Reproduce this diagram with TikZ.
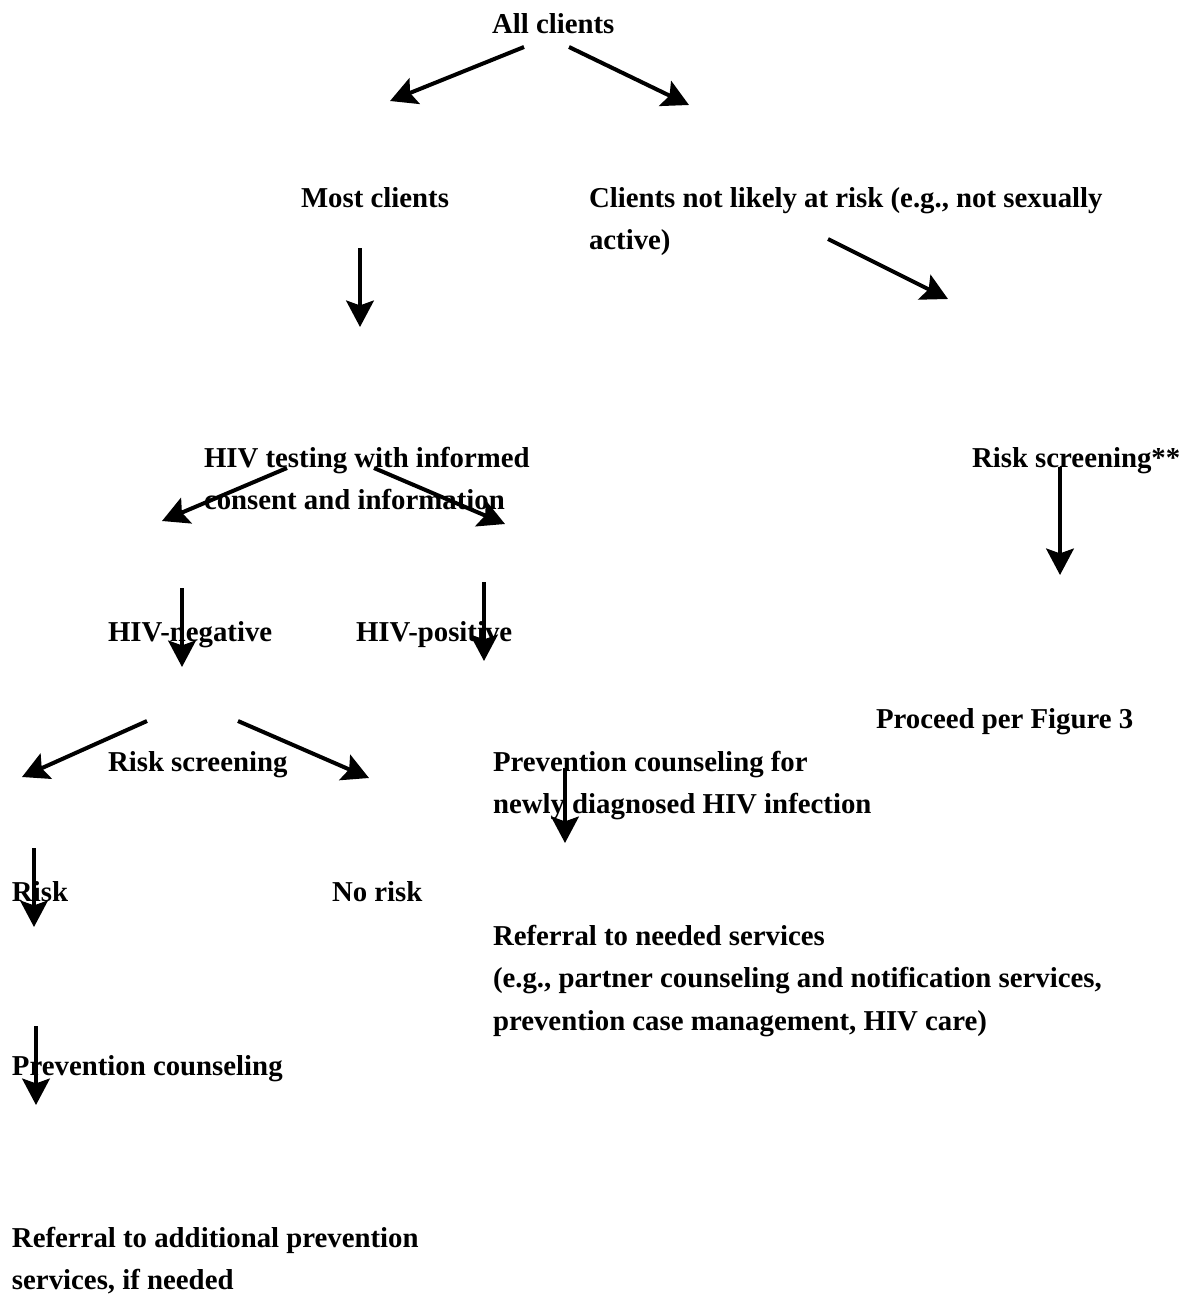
\documentclass[tikz,border=0pt]{standalone}
\usepackage{fontspec}
\setmainfont{Liberation Serif}
\usetikzlibrary{arrows.meta}
\newcommand\blocklines[1]{\begin{tabular}[t]{@{}l@{}}#1\end{tabular}}
\begin{document}
\begin{tikzpicture}[
  x=0.41667pt, y=-0.41667pt,
  lbl/.style={anchor=base west, inner sep=0pt, outer sep=0pt,
    font=\fontsize{12pt}{17.9pt}\selectfont\bfseries},
  flow/.style={line width=1.67pt,
    -{Stealth[length=11pt,width=11.5pt,inset=2pt]}}
]
\useasboundingbox (0,0) rectangle (1188,1296);

% text blocks
\node[lbl] (all)   at (492,33)  {All clients};
\node[lbl] (most)  at (301,207) {Most clients};
\node[lbl] (notrisk) at (589,207) {\blocklines{Clients not likely at risk (e.g., not sexually\\active)}};
\node[lbl] (test)  at (204,467) {\blocklines{HIV testing with informed\\consent and information}};
\node[lbl] (rs2)   at (972,467) {Risk screening**};
\node[lbl] (neg)   at (108,641) {HIV-negative};
\node[lbl] (pos)   at (356,641) {HIV-positive};
\node[lbl] (fig3)  at (876,728) {Proceed per Figure 3};
\node[lbl] (rs1)   at (108,771) {Risk screening};
\node[lbl] (pcnew) at (493,771) {\blocklines{Prevention counseling for\\newly diagnosed HIV infection}};
\node[lbl] (risk)  at (12,901)  {Risk};
\node[lbl] (norisk) at (332,901) {No risk};
\node[lbl] (refneed) at (493,945) {\blocklines{Referral to needed services\\(e.g., partner counseling and notification services,\\prevention case management, HIV care)}};
\node[lbl] (pc)    at (12,1075) {Prevention counseling};
\node[lbl] (refadd) at (12,1247) {\blocklines{Referral to additional prevention\\services, if needed}};

% arrow end points
\coordinate (a1s) at (524,47);   \coordinate (a1e) at (390,101);
\coordinate (a2s) at (569,47);   \coordinate (a2e) at (689,105);
\coordinate (a3s) at (360,248);  \coordinate (a3e) at (360,327);
\coordinate (a4s) at (828,239);  \coordinate (a4e) at (948,299);
\coordinate (a5s) at (287,468);  \coordinate (a5e) at (162,521);
\coordinate (a6s) at (374,468);  \coordinate (a6e) at (505,524);
\coordinate (a7s) at (182,588);  \coordinate (a7e) at (182,667);
\coordinate (a8s) at (484,582);  \coordinate (a8e) at (484,661);
\coordinate (a9s) at (147,721);  \coordinate (a9e) at (22,777);
\coordinate (a10s) at (238,721); \coordinate (a10e) at (369,778);
\coordinate (a11s) at (1060,467);\coordinate (a11e) at (1060,575);
\coordinate (a12s) at (565,768); \coordinate (a12e) at (565,843);
\coordinate (a13s) at (34,848);  \coordinate (a13e) at (34,927);
\coordinate (a14s) at (36,1026); \coordinate (a14e) at (36,1105);

% arrows
\foreach \i in {1,...,14}
  \draw[flow] (a\i s) -- (a\i e);
\end{tikzpicture}
\end{document}
